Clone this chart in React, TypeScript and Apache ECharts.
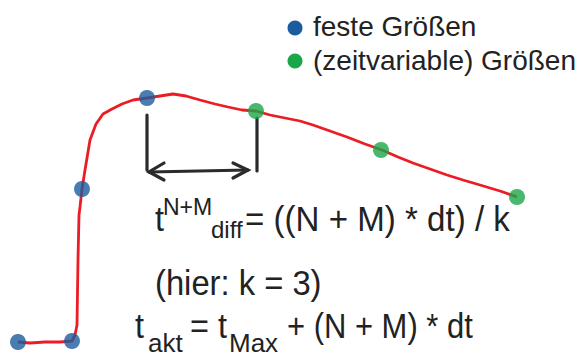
import React, { useEffect, useRef } from "react";
import * as echarts from "echarts";

// Red measured curve (time, value)
const curveTime = [18, 30, 45, 60, 72, 75, 77, 78, 79, 80, 82, 85, 90, 96, 103, 112, 122, 133, 147, 160, 173, 186, 200, 215, 228, 242, 256, 270, 285, 300, 313, 330, 347, 365, 382, 398, 413, 430, 447, 463, 480, 500, 517];
const curveValue = [18, 17, 18, 18, 19, 25, 35, 100, 145, 153, 171, 190, 220, 236, 246, 251, 256, 260, 262, 264, 266, 264, 260, 256, 253, 250, 249, 245, 242, 239, 235, 229, 223, 216, 210, 203, 197, 191, 185, 180, 175, 169, 163];

// Fixed values (blue)
const fixedTime = [18, 72, 82, 147];
const fixedValue = [18, 19, 171, 262];

// Time-variable values (green)
const varTime = [256, 381, 517];
const varValue = [249, 210, 163];

const legendLabels = ["feste Größen", "(zeitvariable) Größen"];

const BLUE = "#1b5c9e";
const GREEN = "#1aa64a";
const RED = "#ec1c24";
const DARK = "#2b2b2b";
const TEXT = "#222222";
const FONT = "'Liberation Sans', Arial, sans-serif";

export default function App() {
  const ref = useRef<HTMLDivElement>(null);
  useEffect(() => {
    if (!ref.current) return;
    const chart = echarts.init(ref.current, undefined, { renderer: "svg" });
    chart.setOption({
      animation: false,
      backgroundColor: "#ffffff",
      grid: { left: 0, right: 0, top: 0, bottom: 0 },
      xAxis: { type: "value", min: 0, max: 586, show: false },
      yAxis: { type: "value", min: 0, max: 360, show: false },
      series: [
        {
          type: "line",
          data: curveTime.map((t, i) => [t, curveValue[i]]),
          symbol: "none",
          lineStyle: { color: RED, width: 2.8 },
          z: 2,
        },
        {
          type: "scatter",
          data: fixedTime.map((t, i) => [t, fixedValue[i]]),
          symbolSize: 16,
          itemStyle: { color: BLUE },
          z: 3,
        },
        {
          type: "scatter",
          data: varTime.map((t, i) => [t, varValue[i]]),
          symbolSize: 16,
          itemStyle: { color: GREEN },
          z: 3,
        },
      ],
    });

    const pLeft = chart.convertToPixel({ gridIndex: 0 }, [fixedTime[3], fixedValue[3]]) as number[];
    const pRight = chart.convertToPixel({ gridIndex: 0 }, [varTime[0], varValue[0]]) as number[];
    const xl = pLeft[0];
    const xr = pRight[0] + 1;
    const ay = 171;
    const lineStyle = { stroke: DARK, lineWidth: 3.2, lineCap: "round" };

    const txt = (text: string, x: number, baseline: number, size: number, sx = 1) => ({
      type: "text",
      x,
      y: baseline - size * 0.35,
      scaleX: sx,
      style: {
        text,
        fontSize: size,
        fontFamily: FONT,
        fill: TEXT,
        align: "left",
        verticalAlign: "middle",
      },
      z: 10,
    });

    const M = 36;
    const SX = 0.9;

    chart.setOption({
      graphic: [
        { type: "line", shape: { x1: xl, y1: 115, x2: xl, y2: 170 }, style: lineStyle },
        { type: "line", shape: { x1: xr, y1: 118, x2: xr, y2: 171 }, style: lineStyle },
        { type: "line", shape: { x1: xl + 2, y1: ay + 1, x2: xr - 9, y2: ay - 1 }, style: lineStyle },
        { type: "polyline", shape: { points: [[xl + 17, ay - 8], [xl + 2, ay + 1], [xl + 17, ay + 9]] }, style: { ...lineStyle, fill: null } },
        { type: "polyline", shape: { points: [[xr - 24, ay - 8], [xr - 9, ay - 1], [xr - 24, ay + 7]] }, style: { ...lineStyle, fill: null } },
        // legend
        { type: "circle", shape: { cx: 295, cy: 28, r: 7.5 }, style: { fill: BLUE } },
        { type: "circle", shape: { cx: 295, cy: 61, r: 7.5 }, style: { fill: GREEN } },
        txt(legendLabels[0], 313, 36, 28),
        txt(legendLabels[1], 313, 70, 28, 1.0),
        // formula 1
        txt("t", 155, 231, M, SX),
        txt("N+M", 163, 215, 23),
        txt("diff", 211, 238, 24),
        txt("= ((N + M) * dt) / k", 245, 231, M, 0.92),
        // line 2
        txt("(hier: k = 3)", 155, 295, M, 0.91),
        // line 3
        txt("t", 135, 338, M, SX),
        txt("akt", 148, 352, 26),
        txt("= t", 190, 338, M, SX),
        txt("Max", 229, 352, 26),
        txt("+ (N + M) * dt", 287, 338, M, 0.86),
      ],
    });

    return () => chart.dispose();
  }, []);
  return (
    <div
      ref={ref}
      style={{ position: "absolute", left: 0, top: 0, width: 586, height: 360, background: "#fff" }}
    />
  );
}
